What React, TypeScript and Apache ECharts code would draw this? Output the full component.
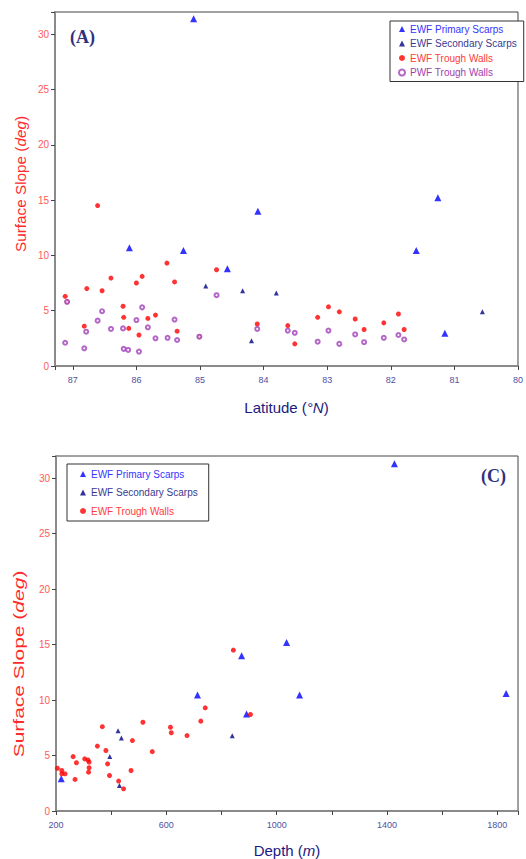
import React, { useEffect, useRef } from "react";
import * as echarts from "echarts";

// ---- Panel A: slope vs latitude ----
const latPrimary = [85.1, 86.11, 85.26, 84.57, 84.09, 81.26, 81.6, 81.15];
const slopePrimaryA = [31.4, 10.7, 10.45, 8.8, 14.0, 15.2, 10.45, 2.95];

const latSecondary = [84.91, 84.33, 83.8, 84.19, 80.56];
const slopeSecondaryA = [7.23, 6.8, 6.6, 2.28, 4.9];

const latTrough = [87.12, 87.09, 86.61, 86.78, 86.82, 86.54, 86.4, 86.21, 86.2, 86.12, 86.0, 85.91, 85.96, 85.82, 85.7, 85.52, 85.4, 85.36, 85.01, 84.74, 84.1, 83.62, 83.51, 83.15, 82.98, 82.81, 82.56, 82.42, 82.11, 81.88, 81.79];
const slopeTroughA = [6.3, 5.8, 14.5, 7.0, 3.6, 6.8, 7.95, 5.4, 4.4, 3.4, 7.5, 8.1, 2.8, 4.3, 4.6, 9.3, 7.6, 3.15, 2.65, 8.7, 3.8, 3.65, 2.0, 4.4, 5.35, 4.9, 4.25, 3.3, 3.9, 4.7, 3.3];

const latPwf = [87.12, 87.09, 86.82, 86.79, 86.61, 86.54, 86.4, 86.21, 86.2, 86.13, 86.0, 85.91, 85.96, 85.82, 85.7, 85.51, 85.4, 85.36, 85.01, 84.74, 84.1, 83.62, 83.51, 83.15, 82.98, 82.81, 82.56, 82.42, 82.11, 81.88, 81.79];
const slopePwf = [2.1, 5.8, 1.6, 3.1, 4.1, 4.95, 3.35, 3.4, 1.55, 1.45, 4.15, 5.3, 1.3, 3.5, 2.5, 2.55, 4.2, 2.35, 2.65, 6.4, 3.35, 3.2, 3.0, 2.2, 3.2, 2.0, 2.85, 2.15, 2.55, 2.8, 2.4];

// ---- Panel C: slope vs depth ----
const depthPrimary = [1427, 1832, 873, 1036, 713, 1083, 891, 219];
const slopePrimaryC = [31.3, 10.6, 14.0, 15.2, 10.45, 10.45, 8.75, 2.9];

const depthSecondary = [425, 437, 395, 430, 839];
const slopeSecondaryC = [7.23, 6.58, 4.92, 2.29, 6.78];

const depthTrough = [205, 221, 221, 233, 262, 274, 269, 304, 316, 320, 320, 318, 350, 368, 381, 387, 394, 427, 445, 472, 477, 515, 549, 615, 618, 675, 725, 741, 843, 905];
const slopeTroughC = [3.85, 3.65, 3.35, 3.35, 4.9, 4.35, 2.85, 4.7, 4.6, 4.4, 3.9, 3.5, 5.85, 7.6, 5.45, 4.25, 3.2, 2.7, 2.0, 3.65, 6.35, 8.0, 5.35, 7.55, 7.05, 6.8, 8.1, 9.3, 14.5, 8.7];

const NAME_PRIMARY = "EWF Primary Scarps";
const NAME_SECONDARY = "EWF Secondary Scarps";
const NAME_TROUGH = "EWF Trough Walls";
const NAME_PWF = "PWF Trough Walls";

const zip = (xs: number[], ys: number[]) => xs.map((x, i) => [x, ys[i]]);

const FONT = "'Liberation Sans', Arial, sans-serif";
const C_PRIMARY = "#0000ff";
const C_SECONDARY = "#000080";
const C_TROUGH = "#ff0000";
const C_PWF = "#a040b8";

export default function App() {
  const ref = useRef<HTMLDivElement>(null);

  useEffect(() => {
    if (!ref.current) return;
    const chart = echarts.init(ref.current, null, { renderer: "svg" });

    const yAxisCommon = (gridIndex: number) => ({
      type: "value",
      gridIndex,
      min: 0,
      max: 32,
      interval: 5,
      splitLine: { show: false },
      axisLine: { show: true, lineStyle: { color: "#8a8a8a", width: 2 } },
      axisTick: { show: true, length: 4, lineStyle: { color: "#444" } },
      axisLabel: {
        color: "#ff5a5a",
        fontSize: 10,
        fontFamily: FONT,
        margin: 6,
        formatter: (v: number) => (v % 5 === 0 ? String(v) : ""),
      },
    });

    const legendText = (name: string, color: string) => ({
      name,
      textStyle: { color },
    });

    const option: any = {
      animation: false,
      backgroundColor: "#fff",
      textStyle: { fontFamily: FONT },
      grid: [
        { left: 55, right: 7, top: 12, height: 354, show: true, borderColor: "#444", borderWidth: 1, backgroundColor: "transparent" },
        { left: 56, right: 8, top: 456, height: 355.5, show: true, borderColor: "#444", borderWidth: 1, backgroundColor: "transparent" },
      ],
      xAxis: [
        {
          type: "value",
          gridIndex: 0,
          inverse: true,
          min: 80,
          max: 87.28,
          interval: 1,
          splitLine: { show: false },
          axisLine: { show: true, lineStyle: { color: "#8a8a8a", width: 2 } },
          axisTick: { show: true, length: 4, lineStyle: { color: "#444" } },
          axisLabel: {
            color: "#5050a0",
            fontSize: 9,
            fontFamily: FONT,
            margin: 9,
            formatter: (v: number) => (Math.abs(v - Math.round(v)) < 1e-6 ? String(Math.round(v)) : ""),
          },
          name: "Latitude ({it|°N})",
          nameLocation: "middle",
          nameGap: 34,
          nameTextStyle: {
            color: "#1a1a80",
            fontSize: 15,
            fontFamily: FONT,
            rich: { it: { fontStyle: "italic", color: "#1a1a80", fontSize: 15, fontFamily: FONT } },
          },
        },
        {
          type: "value",
          gridIndex: 1,
          min: 200,
          max: 1875,
          interval: 200,
          splitLine: { show: false },
          axisLine: { show: true, lineStyle: { color: "#8a8a8a", width: 2 } },
          axisTick: { show: true, length: 4, lineStyle: { color: "#444" } },
          axisLabel: {
            color: "#5050a0",
            fontSize: 9,
            fontFamily: FONT,
            margin: 9,
            formatter: (v: number) => ((v - 200) % 400 === 0 ? String(v) : ""),
          },
          name: "Depth ({it|m})",
          nameLocation: "middle",
          nameGap: 32,
          nameTextStyle: {
            color: "#1a1a80",
            fontSize: 15,
            fontFamily: FONT,
            rich: { it: { fontStyle: "italic", color: "#1a1a80", fontSize: 15, fontFamily: FONT } },
          },
        },
      ],
      yAxis: [yAxisCommon(0), yAxisCommon(1)],
      legend: [
        {
          orient: "vertical",
          left: 390,
          top: 21,
          padding: [2, 7, 3, 8],
          itemGap: 2.5,
          itemWidth: 6,
          itemHeight: 6,
          borderColor: "#333",
          borderWidth: 1,
          backgroundColor: "#fff",
          selectedMode: false,
          textStyle: { fontSize: 10, lineHeight: 12, fontFamily: FONT },
          data: [
            legendText(NAME_PRIMARY, "#3535ff"),
            legendText(NAME_SECONDARY, "#3a3a90"),
            legendText(NAME_TROUGH, "#ff3b3b"),
            legendText(NAME_PWF, "#a040b0"),
          ],
        },
        {
          orient: "vertical",
          left: 67,
          top: 464,
          padding: [4, 11, 4, 13],
          itemGap: 6.5,
          itemWidth: 6,
          itemHeight: 6,
          borderColor: "#333",
          borderWidth: 1,
          backgroundColor: "#fff",
          selectedMode: false,
          textStyle: { fontSize: 10, lineHeight: 12, fontFamily: FONT },
          data: [
            legendText(NAME_PRIMARY, "#3535ff"),
            legendText(NAME_SECONDARY, "#3a3a90"),
            legendText(NAME_TROUGH, "#ff3b3b"),
          ],
        },
      ],
      graphic: [
        {
          type: "text",
          left: 70,
          top: 28,
          style: { text: "(A)", font: "bold 18px 'Liberation Serif', 'Times New Roman', serif", fill: "#30307f" },
        },
        {
          type: "text",
          left: 481,
          top: 467,
          style: { text: "(C)", font: "bold 18px 'Liberation Serif', 'Times New Roman', serif", fill: "#30307f" },
        },
        {
          type: "text",
          x: 21,
          y: 184,
          rotation: Math.PI / 2,
          scaleX: 1.02,
          style: {
            text: "Surface Slope ({it|deg})",
            align: "center",
            verticalAlign: "middle",
            fill: "#ff2a2a",
            fontSize: 15,
            fontFamily: FONT,
            rich: { it: { fontStyle: "italic", fill: "#ff2a2a", fontSize: 15, fontFamily: FONT } },
          },
        },
        {
          type: "text",
          x: 19,
          y: 664,
          rotation: Math.PI / 2,
          scaleX: 1.4,
          style: {
            text: "Surface Slope ({it|deg})",
            align: "center",
            verticalAlign: "middle",
            fill: "#ff2a2a",
            fontSize: 15,
            fontFamily: FONT,
            rich: { it: { fontStyle: "italic", fill: "#ff2a2a", fontSize: 15, fontFamily: FONT } },
          },
        },
      ],
      series: [
        {
          name: NAME_TROUGH,
          type: "scatter",
          xAxisIndex: 0,
          yAxisIndex: 0,
          symbol: "circle",
          symbolSize: 5,
          itemStyle: { color: C_TROUGH },
          data: zip(latTrough, slopeTroughA),
        },
        {
          name: NAME_PWF,
          type: "scatter",
          xAxisIndex: 0,
          yAxisIndex: 0,
          symbol: "emptyCircle",
          symbolSize: 4,
          itemStyle: { color: C_PWF, borderColor: C_PWF, borderWidth: 1 },
          data: zip(latPwf, slopePwf),
        },
        {
          name: NAME_PRIMARY,
          type: "scatter",
          xAxisIndex: 0,
          yAxisIndex: 0,
          symbol: "triangle",
          symbolSize: 7,
          itemStyle: { color: C_PRIMARY },
          data: zip(latPrimary, slopePrimaryA),
        },
        {
          name: NAME_SECONDARY,
          type: "scatter",
          xAxisIndex: 0,
          yAxisIndex: 0,
          symbol: "triangle",
          symbolSize: 5,
          itemStyle: { color: C_SECONDARY },
          data: zip(latSecondary, slopeSecondaryA),
        },
        {
          name: NAME_PRIMARY,
          type: "scatter",
          xAxisIndex: 1,
          yAxisIndex: 1,
          symbol: "triangle",
          symbolSize: 7,
          itemStyle: { color: C_PRIMARY },
          data: zip(depthPrimary, slopePrimaryC),
        },
        {
          name: NAME_SECONDARY,
          type: "scatter",
          xAxisIndex: 1,
          yAxisIndex: 1,
          symbol: "triangle",
          symbolSize: 5,
          itemStyle: { color: C_SECONDARY },
          data: zip(depthSecondary, slopeSecondaryC),
        },
        {
          name: NAME_TROUGH,
          type: "scatter",
          xAxisIndex: 1,
          yAxisIndex: 1,
          symbol: "circle",
          symbolSize: 5,
          itemStyle: { color: C_TROUGH },
          data: zip(depthTrough, slopeTroughC),
        },
      ],
    };

    chart.setOption(option);
    return () => chart.dispose();
  }, []);

  return (
    <div
      ref={ref}
      style={{ position: "fixed", left: 0, top: 0, width: 526, height: 859, background: "#fff" }}
    />
  );
}
